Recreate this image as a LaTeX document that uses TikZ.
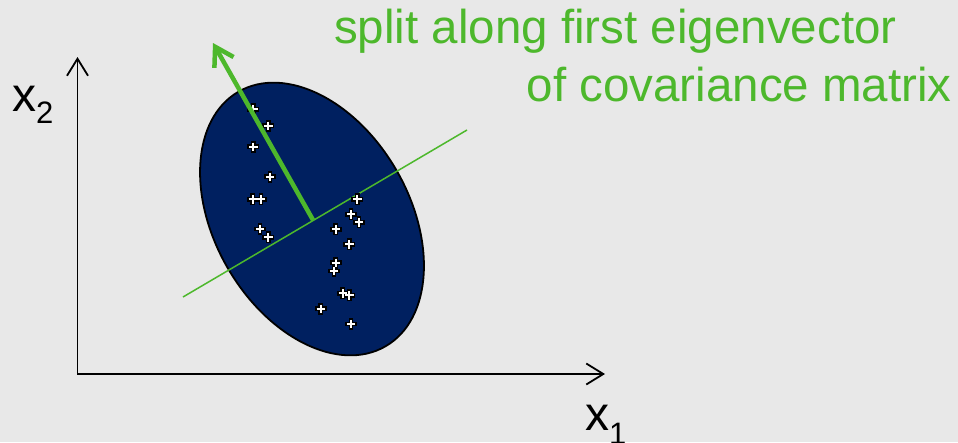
\documentclass[tikz,border=0pt]{standalone}
\usepackage{fontspec}
\setmainfont{Liberation Sans}
\usetikzlibrary{arrows.meta}
\definecolor{bg}{HTML}{E8E8E8}
\definecolor{navy}{HTML}{002060}
\definecolor{lgreen}{HTML}{4DB82C}
\begin{document}
\begin{tikzpicture}[x=1pt,y=-1pt,
  axis/.style={line width=1.8pt, black, {Straight Barb[length=17pt,width=21pt,line width=1.8pt]}-{Straight Barb[length=17pt,width=21pt,line width=1.8pt]}},
  blob/.style={fill=navy, draw=black, line width=1.8pt},
  splitline/.style={lgreen, line width=1.5pt},
  eigarrow/.style={lgreen, line width=4.5pt, -{Straight Barb[length=18pt,width=22pt,line width=4.5pt]}},
  pout/.style={black, line width=4.6pt, line cap=rect},
  pin/.style={white, line width=1.9pt},
  lbl/.style={inner sep=0pt, text=lgreen, font=\fontsize{47.5}{57}\selectfont},
  axlbl/.style={inner sep=0pt, font=\fontsize{48}{58}\selectfont}]
\fill[bg] (0,0) rectangle (958,442);
\useasboundingbox (0,0) rectangle (958,442);
% axes
\coordinate (ytip) at (77.5,57);
\coordinate (xtip) at (605,374);
\draw[axis] (ytip) |- (xtip);
% ellipse
\coordinate (c) at (312,219);
\draw[blob, rotate around={120:(c)}] (c) ellipse [x radius=147pt, y radius=97.5pt];
% split line
\coordinate (m1) at (183,297);
\coordinate (m2) at (467,130);
\draw[splitline] (m1) -- (m2);
% data points
\foreach \x/\y in {253.3/109.3, 268.3/125.7, 253.3/146.7, 270/176.7, 252.7/199.3, 261/199.3,
  357.3/199.3, 351/214.3, 359/222.3, 260/229, 268.3/237.3, 335.7/229.3, 349.3/244.3,
  335.7/262.7, 334/271, 342.7/293.3, 349.3/295.3, 320.7/308.7, 351/324} {
  \draw[pout] (\x-3.6,\y) -- (\x+3.6,\y) (\x,\y-3.6) -- (\x,\y+3.6);
}
\foreach \x/\y in {253.3/109.3, 268.3/125.7, 253.3/146.7, 270/176.7, 252.7/199.3, 261/199.3,
  357.3/199.3, 351/214.3, 359/222.3, 260/229, 268.3/237.3, 335.7/229.3, 349.3/244.3,
  335.7/262.7, 334/271, 342.7/293.3, 349.3/295.3, 320.7/308.7, 351/324} {
  \draw[pin] (\x-4.2,\y) -- (\x+4.2,\y) (\x,\y-4.2) -- (\x,\y+4.2);
}
% eigenvector arrow
\coordinate (c0) at (313,220);
\coordinate (etip) at (213,43);
\draw[eigarrow] (c0) -- (etip);
% labels
\node[lbl, anchor=base west] (t1) at (334,43.5) {split along first eigenvector};
\node[lbl, anchor=base east] (t2) at (952,101) {of covariance matrix};
\node[axlbl, anchor=base west] (x2) at (12,111) {x\raisebox{-12pt}{\fontsize{31}{31}\selectfont 2}};
\node[axlbl, anchor=base west] (x1) at (585,430) {x\raisebox{-14pt}{\fontsize{31}{31}\selectfont 1}};
\end{tikzpicture}
\end{document}
